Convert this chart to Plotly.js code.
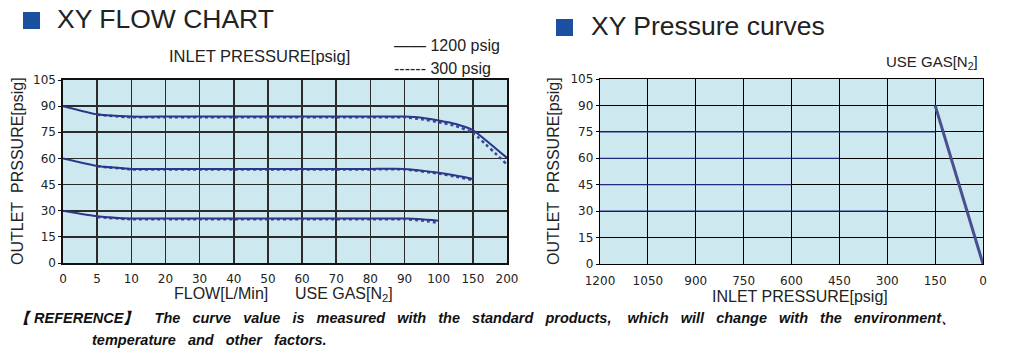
<!DOCTYPE html>
<html>
<head>
<meta charset="utf-8">
<script src="https://cdn.plot.ly/plotly-3.0.1.min.js"></script>
<style>html,body{margin:0;padding:0;background:#fff;}#chart{width:1013px;height:357px;}</style>
</head>
<body>
<div id="chart"></div>
<script>
// ---- Left chart: XY FLOW CHART ----
const flowTicks = [0, 5, 10, 20, 30, 40, 50, 60, 70, 80, 90, 100, 150, 200];
const outletTicks = [0, 15, 30, 45, 60, 75, 90, 105];

// 1200 psig inlet (solid)
const flowHi1200 = [0, 5, 10, 20, 30, 40, 50, 60, 70, 80, 90, 95, 100, 125, 150, 200];
const outHi1200  = [90, 85.3, 84, 84, 84, 84, 84, 84, 84, 84, 84, 83.4, 81.8, 79.8, 76.3, 60.3];
const flowMid1200 = [0, 5, 10, 20, 30, 40, 50, 60, 70, 80, 90, 100, 125, 150];
const outMid1200  = [60, 55.7, 54, 54, 54, 54, 54, 54, 54, 54, 54, 51.8, 50.2, 48.2];
const flowLow1200 = [0, 5, 10, 20, 30, 40, 50, 60, 70, 80, 90, 95, 100];
const outLow1200  = [30, 26.8, 25.5, 25.5, 25.5, 25.5, 25.5, 25.5, 25.5, 25.5, 25.5, 25.1, 24.3];

// 300 psig inlet (dotted)
const flowHi300 = [5, 10, 20, 30, 40, 50, 60, 70, 80, 90, 95, 100, 125, 150, 200];
const outHi300  = [85, 83.6, 83.6, 83.6, 83.6, 83.6, 83.6, 83.6, 83.6, 83.6, 82.5, 80.8, 78.6, 74.6, 56.5];
const flowMid300 = [5, 10, 20, 30, 40, 50, 60, 70, 80, 90, 100, 125, 150];
const outMid300  = [55.5, 53.7, 53.7, 53.7, 53.7, 53.7, 53.7, 53.7, 53.7, 53.7, 51.3, 49.5, 47.6];
const flowLow300 = [5, 10, 20, 30, 40, 50, 60, 70, 80, 90, 95, 100];
const outLow300  = [26.3, 25.1, 25.1, 25.1, 25.1, 25.1, 25.1, 25.1, 25.1, 25.1, 24.4, 23];

// ---- Right chart: XY Pressure curves ----
const inletTicks = [1200, 1050, 900, 750, 600, 450, 300, 150, 0];
const curveInlet  = [150, 0];
const curveOutlet = [90, 0];
// faint navy constant-outlet lines seen in the grid
const constOutlet = [75, 60, 45, 30];
const constFrom   = [1200, 1200, 1200, 1200];
const constTo     = [150, 450, 600, 300];

// map a flow value onto the evenly spaced categorical-like axis
function flowPos(f) {
  for (let i = 0; i < flowTicks.length - 1; i++) {
    const a = flowTicks[i], b = flowTicks[i + 1];
    if (f >= a && f <= b) return i + (f - a) / (b - a);
  }
  return flowTicks.length - 1;
}

const navy = '#2e3588';
const traces = [];
function lineTrace(xs, ys, dash, width, color, xa, ya) {
  return {x: xs, y: ys, type: 'scatter', mode: 'lines', xaxis: xa, yaxis: ya,
          line: {color: color, width: width, dash: dash, shape: 'spline', smoothing: 0.4},
          showlegend: false, hoverinfo: 'skip'};
}
traces.push(lineTrace(flowHi300.map(flowPos), outHi300, 'dot', 2.5, '#3a45a0', 'x', 'y'));
traces.push(lineTrace(flowMid300.map(flowPos), outMid300, 'dot', 2.5, '#3a45a0', 'x', 'y'));
traces.push(lineTrace(flowLow300.map(flowPos), outLow300, 'dot', 2.5, '#3a45a0', 'x', 'y'));
traces.push(lineTrace(flowHi1200.map(flowPos), outHi1200, 'solid', 2, navy, 'x', 'y'));
traces.push(lineTrace(flowMid1200.map(flowPos), outMid1200, 'solid', 2, navy, 'x', 'y'));
traces.push(lineTrace(flowLow1200.map(flowPos), outLow1200, 'solid', 2, navy, 'x', 'y'));

for (let i = 0; i < constOutlet.length; i++) {
  traces.push({x: [constFrom[i], constTo[i]], y: [constOutlet[i], constOutlet[i]], type: 'scatter',
    mode: 'lines', xaxis: 'x2', yaxis: 'y2', line: {color: '#1f2a80', width: 1.3},
    showlegend: false, hoverinfo: 'skip'});
}
traces.push({x: curveInlet, y: curveOutlet, type: 'scatter', mode: 'lines', xaxis: 'x2', yaxis: 'y2',
  line: {color: '#4a4e8e', width: 3}, showlegend: false, hoverinfo: 'skip'});

const W = 1013, H = 357;
const px = v => v / W, py = v => 1 - v / H;
const tickFont = {family: 'DejaVu Sans', size: 12, color: '#222'};
const titleFont = {family: 'Liberation Sans, Arial', size: 16, color: '#222'};
const noteFont = {family: 'Liberation Sans Narrow, Liberation Sans', size: 14.5, color: '#111', weight: 'bold', style: 'italic'};
const sp = n => '&nbsp;'.repeat(n);

const layout = {
  width: W, height: H,
  margin: {l: 0, r: 0, t: 0, b: 0},
  paper_bgcolor: '#ffffff',
  plot_bgcolor: '#cde9ef',
  showlegend: false,
  xaxis: {
    domain: [px(63), px(507)], range: [0, flowTicks.length - 1],
    tickvals: flowTicks.map((_, i) => i), ticktext: flowTicks.map(String),
    showgrid: true, gridcolor: '#2b2b2b', gridwidth: 1.6,
    showline: true, linecolor: '#111', linewidth: 1.6, mirror: true,
    ticks: '', ticklabelstandoff: 4, tickfont: tickFont, zeroline: false, anchor: 'y', fixedrange: true
  },
  yaxis: {
    domain: [py(263), py(80)], range: [0, 105], tickvals: outletTicks,
    showgrid: true, gridcolor: '#2b2b2b', gridwidth: 1.6,
    showline: true, linecolor: '#111', linewidth: 1.6, mirror: true,
    ticks: 'outside', ticklen: 3, tickcolor: '#111', tickfont: tickFont,
    zeroline: false, anchor: 'x', fixedrange: true
  },
  xaxis2: {
    domain: [px(600), px(983)], range: [1200, 0], tickvals: inletTicks,
    showgrid: true, gridcolor: '#000', gridwidth: 1.2,
    showline: true, linecolor: '#000', linewidth: 1.3, mirror: true,
    ticks: '', ticklabelstandoff: 5, tickfont: tickFont, zeroline: false, anchor: 'y2', fixedrange: true
  },
  yaxis2: {
    domain: [py(264), py(79)], range: [0, 105], tickvals: outletTicks,
    showgrid: true, gridcolor: '#000', gridwidth: 1.2,
    showline: true, linecolor: '#000', linewidth: 1.3, mirror: true,
    ticks: 'outside', ticklen: 3, tickcolor: '#000', tickfont: tickFont,
    zeroline: false, anchor: 'x2', fixedrange: true
  },
  shapes: [
    {type: 'rect', xref: 'paper', yref: 'paper', x0: px(23), x1: px(40), y0: py(29), y1: py(12),
     fillcolor: '#1b4f9f', line: {width: 0}},
    {type: 'rect', xref: 'paper', yref: 'paper', x0: px(556), x1: px(573), y0: py(36), y1: py(19),
     fillcolor: '#1b4f9f', line: {width: 0}}
  ],
  annotations: [
    {text: 'XY FLOW CHART', xref: 'paper', yref: 'paper', x: px(55), y: py(19), xanchor: 'left', yanchor: 'middle',
     showarrow: false, font: {family: 'Liberation Sans, Arial', size: 26.5, color: '#222'}},
    {text: 'XY Pressure curves', xref: 'paper', yref: 'paper', x: px(589), y: py(26), xanchor: 'left', yanchor: 'middle',
     showarrow: false, font: {family: 'Liberation Sans, Arial', size: 26.5, color: '#222'}},
    {text: 'INLET PRESSURE[psig]', xref: 'paper', yref: 'paper', x: px(259), y: py(56), xanchor: 'center', yanchor: 'middle',
     showarrow: false, font: {family: 'Liberation Sans, Arial', size: 16.5, color: '#222'}},
    {text: '—— 1200 psig', xref: 'paper', yref: 'paper', x: px(392), y: py(46), xanchor: 'left', yanchor: 'middle',
     showarrow: false, font: {family: 'Liberation Sans, Arial', size: 16, color: '#222'}},
    {text: '------ 300 psig', xref: 'paper', yref: 'paper', x: px(392), y: py(69), xanchor: 'left', yanchor: 'middle',
     showarrow: false, font: {family: 'Liberation Sans, Arial', size: 16, color: '#222'}},
    {text: 'OUTLET' + sp(2) + 'PRSSURE[psig]', xref: 'paper', yref: 'paper', x: px(17), y: py(171), xanchor: 'center', yanchor: 'middle',
     textangle: -90, showarrow: false, font: titleFont},
    {text: 'OUTLET' + sp(2) + 'PRSSURE[psig]', xref: 'paper', yref: 'paper', x: px(553), y: py(171), xanchor: 'center', yanchor: 'middle',
     textangle: -90, showarrow: false, font: titleFont},
    {text: 'FLOW[L/Min]' + sp(6) + 'USE GAS[N<sub>2</sub>]', xref: 'paper', yref: 'paper', x: px(283), y: py(294), xanchor: 'center', yanchor: 'middle',
     showarrow: false, font: titleFont},
    {text: 'INLET PRESSURE[psig]', xref: 'paper', yref: 'paper', x: px(800), y: py(296), xanchor: 'center', yanchor: 'middle',
     showarrow: false, font: titleFont},
    {text: 'USE GAS[N<sub>2</sub>]', xref: 'paper', yref: 'paper', x: px(980), y: py(62), xanchor: 'right', yanchor: 'middle',
     showarrow: false, font: {family: 'Liberation Sans, Arial', size: 15, color: '#222'}},
    {text: '【 REFERENCE】' + sp(4) + ['The', 'curve', 'value', 'is', 'measured', 'with', 'the', 'standard', 'products,'].join(sp(3)) + sp(4) +
           ['which', 'will', 'change', 'with', 'the', 'environment、'].join(sp(3)),
     xref: 'paper', yref: 'paper', x: px(13), y: py(318), xanchor: 'left', yanchor: 'middle',
     showarrow: false, font: noteFont},
    {text: ['temperature', 'and', 'other', 'factors.'].join(sp(3)),
     xref: 'paper', yref: 'paper', x: px(90), y: py(340), xanchor: 'left', yanchor: 'middle',
     showarrow: false, font: noteFont}
  ]
};

Plotly.newPlot('chart', traces, layout, {staticPlot: true, displayModeBar: false});
</script>
</body>
</html>
